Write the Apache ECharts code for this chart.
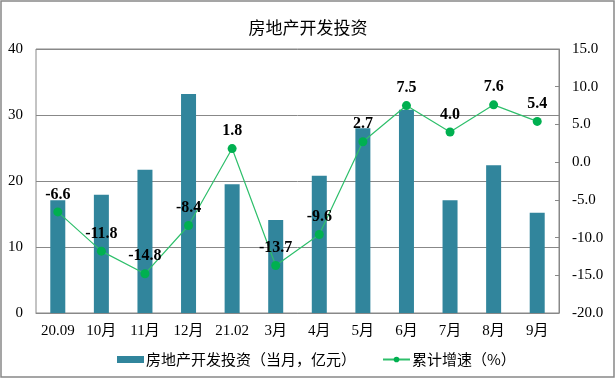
<!DOCTYPE html>
<html><head><meta charset="utf-8">
<script src="https://cdn.jsdelivr.net/npm/echarts@6/dist/echarts.min.js"></script>
<style>html,body{margin:0;padding:0;background:#fff}#c{width:616px;height:384px}</style>
</head><body><div id="c"></div>
<script>
const categories = ['20.09','10月','11月','12月','21.02','3月','4月','5月','6月','7月','8月','9月'];
const investment = [17.1, 17.9, 21.7, 33.2, 19.5, 14.1, 20.8, 28.0, 30.8, 17.1, 22.4, 15.2];
const growth = [-6.6, -11.8, -14.8, -8.4, 1.8, -13.7, -9.6, 2.7, 7.5, 4.0, 7.6, 5.4];
const leftTicks = [0, 40, 10];
const rightTicks = [-20, 15, 5];

const serif = '"Liberation Serif","Times New Roman",serif';
const cjk = '"Liberation Serif","Noto Sans CJK SC",serif';
const chart = echarts.init(document.getElementById('c'), null, {renderer:'canvas'});
chart.setOption({
  animation: false,
  backgroundColor: '#fff',
  title: {text: '房地产开发投资', left: 'center', top: 14,
    textStyle: {fontFamily: '"Noto Sans CJK SC",sans-serif', fontSize: 17, fontWeight: 'normal', color: '#000'}},
  graphic: [{type: 'rect', shape: {x: 1, y: 1, width: 613, height: 376},
    style: {fill: 'none', stroke: '#888', lineWidth: 1.5}, silent: true}],
  grid: {left: 36, right: 57, top: 49, bottom: 71, show: true, borderColor: '#888', borderWidth: 1},
  legend: {bottom: 12, left: 112, itemGap: 26, itemWidth: 27, itemHeight: 7,
    textStyle: {fontFamily: '"Noto Sans CJK SC",sans-serif', fontSize: 15, color: '#000', padding:[0,0,0,-3]},
    data: [{name: '房地产开发投资（当月，亿元）', icon: 'rect'}, {name: '累计增速（%）'}]},
  xAxis: {type: 'category', data: categories, boundaryGap: true,
    axisLine: {lineStyle: {color: '#888'}},
    axisTick: {inside: true, length: 5, lineStyle: {color: '#888'}},
    axisLabel: {interval: 0, fontFamily: cjk, fontSize: 15, color: '#000', margin: 11}},
  yAxis: [
    {type: 'value', min: leftTicks[0], max: leftTicks[1], interval: leftTicks[2],
      axisLine: {show: false}, axisTick: {show: false},
      splitLine: {lineStyle: {color: '#888'}},
      axisLabel: {fontFamily: serif, fontSize: 15, color: '#000', margin: 13}},
    {type: 'value', min: rightTicks[0], max: rightTicks[1], interval: rightTicks[2],
      axisLine: {show: true, lineStyle: {color: '#888'}},
      axisTick: {show: true, inside: true, length: 4, lineStyle: {color: '#888'}},
      splitLine: {show: false},
      axisLabel: {fontFamily: serif, fontSize: 15, color: '#000', margin: 13,
        formatter: v => v.toFixed(1)}}
  ],
  series: [
    {name: '房地产开发投资（当月，亿元）', type: 'bar', data: investment, barWidth: 15,
      itemStyle: {color: '#31859C'}},
    {name: '累计增速（%）', type: 'line', yAxisIndex: 1, data: growth,
      symbol: 'circle', symbolSize: 9,
      lineStyle: {color: '#2EBF6B', width: 1.2},
      itemStyle: {color: '#00B050'},
      label: {show: true, position: 'top', distance: 5, fontFamily: serif, fontSize: 16, fontWeight: 'bold', color: '#000',
        formatter: p => p.value.toFixed(1)}}
  ]
});
</script></body></html>
